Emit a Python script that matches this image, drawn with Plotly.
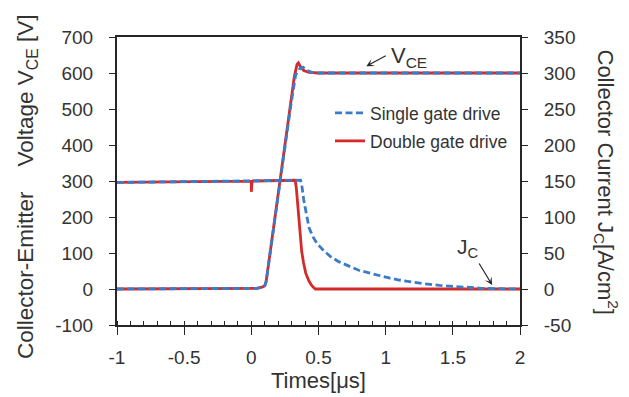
import plotly.graph_objects as go

# ---- Collector-emitter voltage V_CE [V] (left axis) ----
t_vce_double = [-1.0, 0.0, 0.04, 0.08, 0.1, 0.11, 0.15, 0.215, 0.285, 0.32, 0.34, 0.35,
                0.365, 0.39, 0.43, 0.5, 2.0]
vce_double = [0, 0, 2, 5, 9, 20, 130, 300, 506, 590, 624, 628,
              618, 607, 602, 600, 600]

t_vce_single = [-1.0, 0.0, 0.04, 0.08, 0.1, 0.11, 0.15, 0.215, 0.29, 0.33, 0.36, 0.385,
                0.41, 0.45, 0.5, 2.0]
vce_single = [0, 0, 2, 5, 9, 20, 128, 298, 500, 595, 612, 616,
              608, 602, 600, 600]

# ---- Collector current density J_C [A/cm2] (right axis) ----
t_jc_double = [-1.0, -0.005, 0.0, 0.0, 0.004, 0.012, 0.3, 0.327, 0.335, 0.345, 0.355,
               0.364, 0.375, 0.389, 0.405, 0.427, 0.445, 0.464, 0.476, 2.0]
jc_double = [148, 149.8, 149.8, 135, 147, 150, 151, 151, 140, 119, 95,
             73, 52, 36, 22, 12, 6, 2, 0, 0]

t_jc_single = [-1.0, 0.0, 0.366, 0.375, 0.39, 0.41, 0.43, 0.46, 0.49, 0.54, 0.59, 0.65,
               0.735, 0.8, 0.884, 0.95, 1.033, 1.1, 1.2, 1.3, 1.4, 1.5, 1.6, 1.7,
               1.8, 1.9, 2.0]
jc_single = [148, 150, 151, 145, 124, 104, 85, 72, 63, 53, 45, 38,
             31, 26, 22, 18.5, 15, 12.5, 9.5, 7, 5, 3.5, 2.2, 1.2,
             0.5, 0.2, 0]

# ---- tick labels (plain hyphen for negatives) ----
x_ticks = [-1, -0.5, 0, 0.5, 1, 1.5, 2]
x_labels = ["-1", "-0.5", "0", "0.5", "1", "1.5", "2"]
v_ticks = [-100, 0, 100, 200, 300, 400, 500, 600, 700]
v_labels = ["-100", "0", "100", "200", "300", "400", "500", "600", "700"]
j_ticks = [-50, 0, 50, 100, 150, 200, 250, 300, 350]
j_labels = ["-50", "0", "50", "100", "150", "200", "250", "300", "350"]

BLUE = "#3a7cc8"
RED = "#d42a2a"
AXIS = "#262626"
TXT = "#333333"
FONT = "Liberation Sans, Arial, sans-serif"
LW = 2.8
DASH = "7px,3.5px"

fig = go.Figure()

# red first so the blue dashes sit on top of it
fig.add_trace(go.Scatter(x=t_vce_double, y=vce_double, mode="lines",
                         name="Double gate drive", legend="legend2",
                         line=dict(color=RED, width=LW)))
fig.add_trace(go.Scatter(x=t_jc_double, y=jc_double, mode="lines", yaxis="y2",
                         showlegend=False, line=dict(color=RED, width=LW)))
fig.add_trace(go.Scatter(x=t_vce_single, y=vce_single, mode="lines",
                         name="Single gate drive", legend="legend",
                         line=dict(color=BLUE, width=LW, dash=DASH)))
fig.add_trace(go.Scatter(x=t_jc_single, y=jc_single, mode="lines", yaxis="y2",
                         showlegend=False, line=dict(color=BLUE, width=LW, dash=DASH)))

axis_common = dict(showline=True, linecolor=AXIS, linewidth=2, showgrid=False,
                   zeroline=False, ticks="outside", tickcolor=AXIS, tickwidth=1.3,
                   automargin=False,
                   tickfont=dict(family=FONT, size=19, color=TXT))

fig.update_layout(
    width=629, height=397,
    margin=dict(l=117, r=109, t=37, b=72),
    paper_bgcolor="white", plot_bgcolor="white",
    font=dict(family=FONT, color=TXT),
    xaxis=dict(range=[-1, 2], tickmode="array", tickvals=x_ticks, ticktext=x_labels,
               ticklen=8, mirror=True, ticklabelstandoff=6,
               minor=dict(tickmode="linear", tick0=-1, dtick=0.1, ticks="inside",
                          ticklen=4, tickcolor=AXIS, tickwidth=1),
               title=dict(text="Times[μs]", font=dict(family=FONT, size=22, color=TXT),
                          standoff=2),
               **axis_common),
    yaxis=dict(range=[-100, 700], tickmode="array", tickvals=v_ticks, ticktext=v_labels,
               ticklen=6, ticklabelstandoff=12, **axis_common),
    yaxis2=dict(range=[-50, 350], tickmode="array", tickvals=j_ticks, ticktext=j_labels,
                ticklen=6, ticklabelstandoff=12,
                overlaying="y", side="right", **axis_common),
    legend=dict(x=(330 - 117) / 403, y=(325 - 95) / 288, xanchor="left", yanchor="top",
                bgcolor="rgba(0,0,0,0)", font=dict(family=FONT, size=17.5, color=TXT)),
    legend2=dict(x=(330 - 117) / 403, y=(325 - 123) / 288, xanchor="left", yanchor="top",
                 bgcolor="rgba(0,0,0,0)", font=dict(family=FONT, size=17.5, color=TXT)),
    showlegend=True,
)

# axis titles
fig.add_annotation(xref="paper", yref="paper", x=(11 - 117) / 403, y=(325 - 187) / 288,
                   text="Collector-Emitter\u00a0\u00a0\u00a0\u00a0Voltage V<sub>CE</sub> [V]",
                   textangle=-90, showarrow=False,
                   font=dict(family=FONT, size=22.5, color=TXT))
fig.add_annotation(xref="paper", yref="paper", x=(624 - 117) / 403, y=(325 - 182) / 288,
                   text="Collector Current J<sub>C</sub>[A/cm<sup>2</sup>]",
                   textangle=90, showarrow=False,
                   font=dict(family=FONT, size=22, color=TXT))

# curve labels with pointers
fig.add_annotation(x=1.17, y=645, xref="x", yref="y", text="V<sub>CE</sub>",
                   showarrow=False, font=dict(family=FONT, size=22, color=TXT))
fig.add_annotation(x=0.856, y=619, ax=1.012, ay=650, xref="x", yref="y",
                   axref="x", ayref="y", text="", showarrow=True,
                   arrowhead=3, arrowsize=1.1, arrowwidth=1.2, arrowcolor=AXIS)
fig.add_annotation(x=1.615, y=114, xref="x", yref="y", text="J<sub>C</sub>",
                   showarrow=False, font=dict(family=FONT, size=21, color=TXT))
fig.add_annotation(x=1.793, y=11, ax=1.689, ay=75, xref="x", yref="y",
                   axref="x", ayref="y", text="", showarrow=True,
                   arrowhead=3, arrowsize=1.1, arrowwidth=1.2, arrowcolor=AXIS)

fig.write_html("out.html")
